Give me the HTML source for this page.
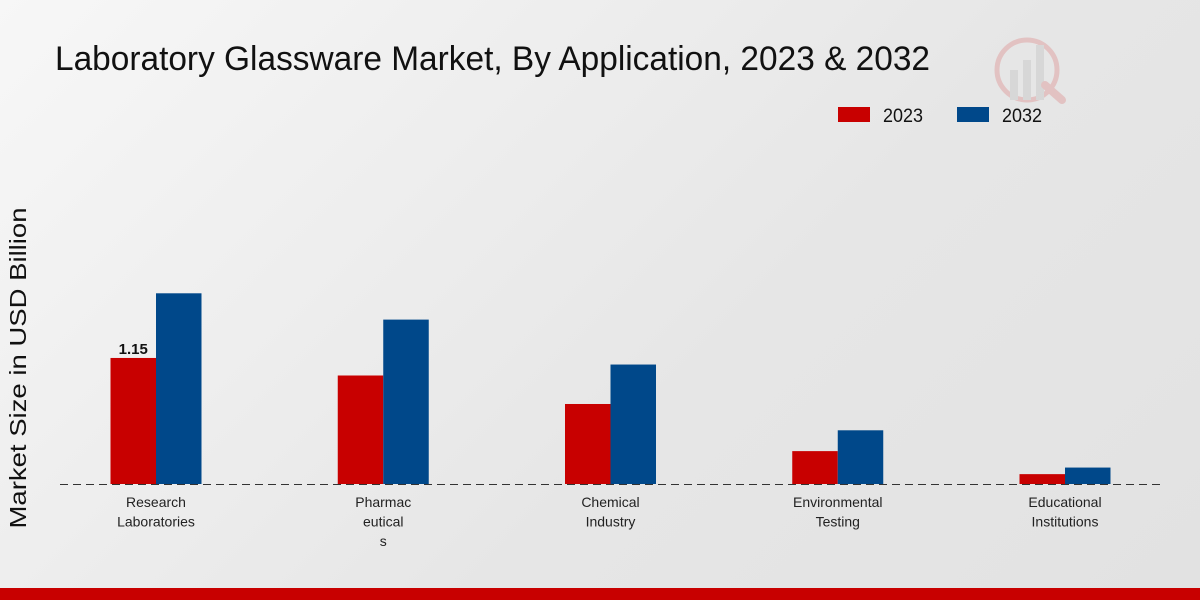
<!DOCTYPE html>
<html><head><meta charset="utf-8"><style>
html,body{margin:0;padding:0;width:1200px;height:600px;overflow:hidden}
body{background:linear-gradient(135deg,#f7f7f7 0%,#e6e6e6 60%,#e2e2e2 100%);font-family:"Liberation Sans",sans-serif}
</style></head><body>
<svg id="chart" width="1200" height="600" xmlns="http://www.w3.org/2000/svg" style="position:absolute;left:0;top:0">
<text x="55" y="70" font-size="34" font-family="Liberation Sans, sans-serif" fill="#111" textLength="875" lengthAdjust="spacingAndGlyphs">Laboratory Glassware Market, By Application, 2023 &amp; 2032</text>
<g opacity="0.15">
<circle cx="1027" cy="70" r="30" fill="none" stroke="#c00" stroke-width="5"/>
<rect x="1010" y="70" width="8" height="30" fill="#888"/><rect x="1023" y="60" width="8" height="40" fill="#888"/><rect x="1036" y="45" width="8" height="55" fill="#888"/>
<line x1="1045" y1="85" x2="1062" y2="100" stroke="#c00" stroke-width="8" stroke-linecap="round"/>
</g>
<g>
<rect x="838" y="107" width="32" height="15" fill="#c80000"/>
<text x="883" y="122" font-size="19" fill="#111" textLength="40" lengthAdjust="spacingAndGlyphs">2023</text>
<rect x="957" y="107" width="32" height="15" fill="#00488a"/>
<text x="1002" y="122" font-size="19" fill="#111" textLength="40" lengthAdjust="spacingAndGlyphs">2032</text>
</g>
<text transform="translate(26,368) rotate(-90)" text-anchor="middle" font-size="23" fill="#111" textLength="321" lengthAdjust="spacingAndGlyphs">Market Size in USD Billion</text>
<line x1="60" y1="484.5" x2="1160" y2="484.5" stroke="#333" stroke-width="1" stroke-dasharray="8,5"/>
<g id="bars"></g>
<g id="labels"></g>
<rect x="0" y="588" width="1200" height="12" fill="#c80000"/>
</svg>
<script>
const categories=[["Research","Laboratories"],["Pharmac","eutical","s"],["Chemical","Industry"],["Environmental","Testing"],["Educational","Institutions"]];
const values2023=[1.15,0.99,0.73,0.30,0.09];
const values2032=[1.74,1.50,1.09,0.49,0.15];
const valueLabels=["1.15",null,null,null,null];
const NS="http://www.w3.org/2000/svg";
const baseY=484, pxPerUnit=109.6, x0=156, step=227.25, bw=45.5;
const yScale=v=>baseY-v*pxPerUnit;
const xCenter=i=>x0+i*step;
const bars=document.getElementById('bars'), labels=document.getElementById('labels');
function bar(x,v,color,name){
  const r=document.createElementNS(NS,'rect');
  r.setAttribute('x',x);r.setAttribute('y',yScale(v));r.setAttribute('width',bw);r.setAttribute('height',baseY-yScale(v));r.setAttribute('fill',color);
  
  
  bars.appendChild(r);
}
categories.forEach((c,i)=>{
  const cx=xCenter(i);
  bar(cx-bw,values2023[i],'#c80000','bar-2023-'+i);
  bar(cx,values2032[i],'#00488a','bar-2032-'+i);
  if(valueLabels[i]){
    const t=document.createElementNS(NS,'text');
    t.setAttribute('x',cx-bw/2);t.setAttribute('y',yScale(values2023[i])-4);t.setAttribute('text-anchor','middle');
    t.setAttribute('font-size','15');t.setAttribute('font-weight','bold');t.setAttribute('fill','#111');
    t.textContent=valueLabels[i];
    
    
    labels.appendChild(t);
  }
  c.forEach((line,j)=>{
    const t=document.createElementNS(NS,'text');
    t.setAttribute('x',cx);t.setAttribute('y',507+j*19.5);t.setAttribute('text-anchor','middle');
    t.setAttribute('font-size','14');t.setAttribute('fill','#222');
    t.textContent=line;
    
    
    labels.appendChild(t);
  });
});
</script>
</body></html>
